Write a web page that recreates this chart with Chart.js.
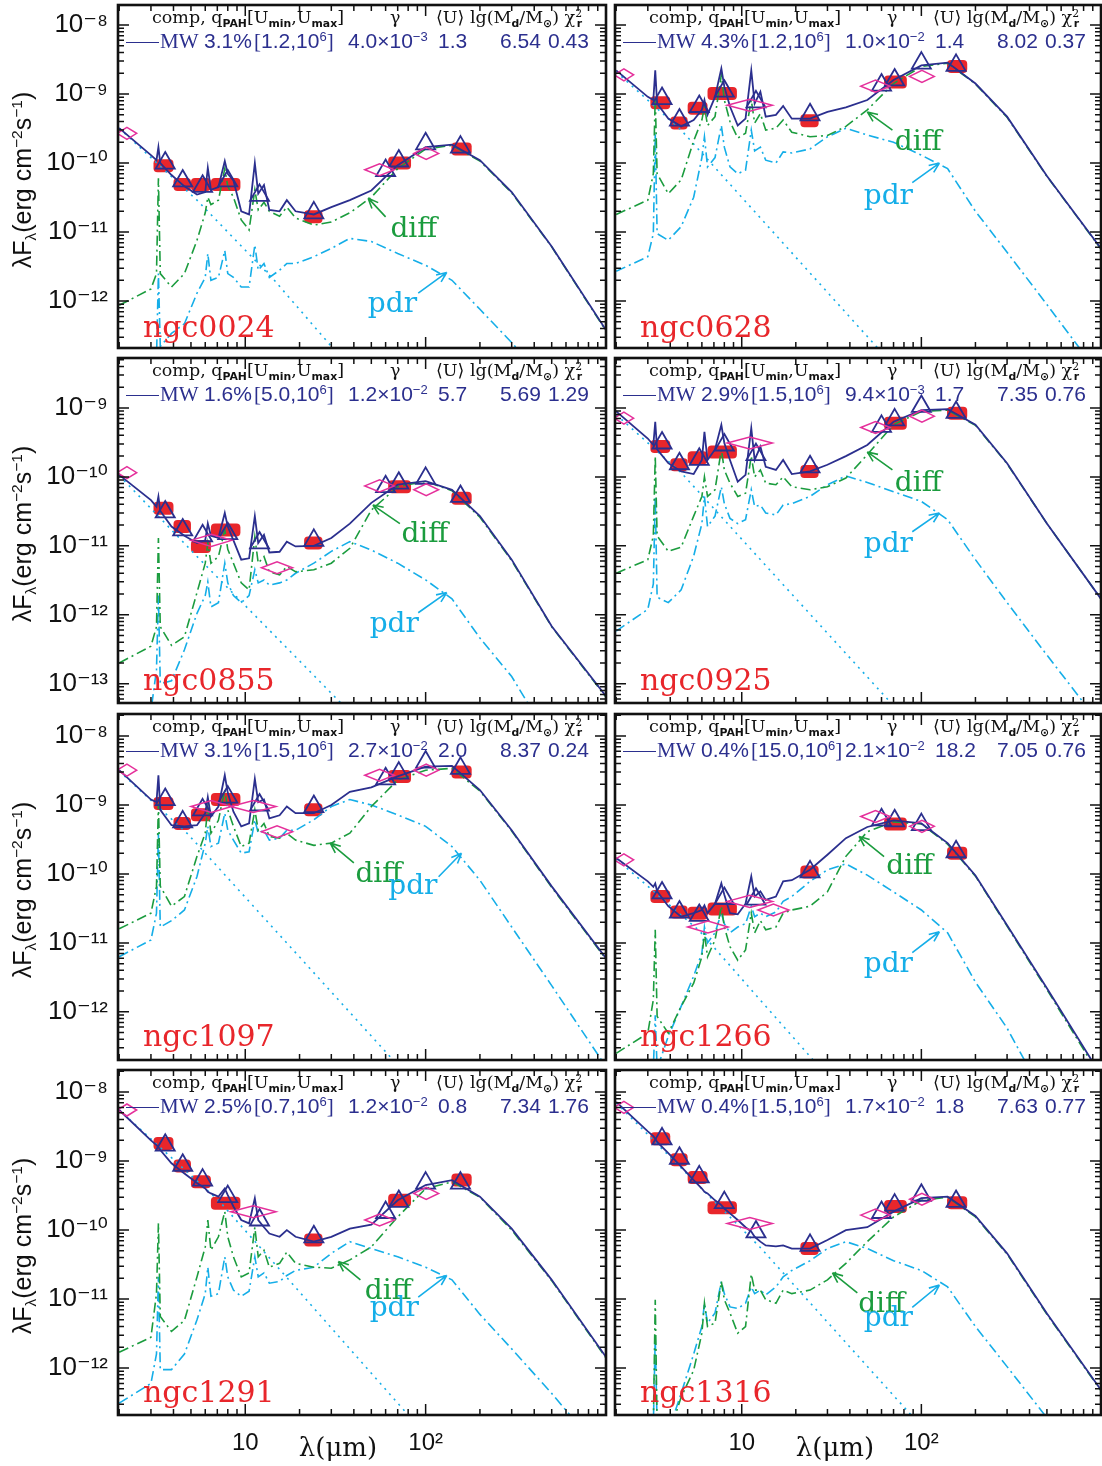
<!DOCTYPE html>
<html lang="en">
<head>
<meta charset="UTF-8">
<title>SED fits</title>
<script src="https://cdn.jsdelivr.net/npm/chart.js@4"></script>
<style>
  body { margin: 0; background: #fff; }
  #page { position: relative; width: 1102px; height: 1466px; overflow: hidden; background: #fff; }
  canvas { position: absolute; }
  .txt { position: absolute; white-space: nowrap; line-height: 1; }
  .txt sub { font-size: 0.62em; vertical-align: -0.35em; line-height: 0; }
  .txt sup { font-size: 0.62em; vertical-align: 0.55em; line-height: 0; }
  .hd1 { font-family: 'DejaVu Serif', serif; font-size: 17.5px; color: #111; }
  .hd1 sub { font-family: 'DejaVu Sans', sans-serif; font-weight: bold; font-size: 0.62em; }
  .hd2 { font-family: 'Liberation Sans', Arial, sans-serif; font-size: 21px; color: #2b2f8e; }
  .mw { font-family: 'Liberation Serif', serif; font-size: 21px; color: #2b2f8e; }
  .seg { position: absolute; height: 0; border-top: 1.5px solid #2b2f8e; }
  .name { font-family: 'DejaVu Serif', serif; font-size: 30px; color: #e8262b; }
  .lab { font-family: 'DejaVu Serif', serif; font-size: 28px; transform: translate(-50%, -50%); }
  .ytitle { font-family: 'Liberation Sans', Arial, sans-serif; font-size: 25px; color: #111;
            transform: translate(-50%, -50%) rotate(-90deg); }
  .xtitle { font-family: 'DejaVu Serif', serif; font-size: 26px; color: #111; transform: translate(-50%, -50%); }
</style>
</head>
<body>
<div id="page"></div>
<script>
// model wavelength grid (micron)
const WAVE = [2.0, 3.0, 3.22, 3.3, 3.38, 3.9, 4.6, 5.4, 6.0, 6.2, 6.45, 7.1, 7.7, 8.0, 8.6, 9.5, 10.5, 11.3, 11.8, 12.7,
              13.6, 15.5, 17.0, 19, 24, 30, 38, 50, 70, 100, 140, 200, 300, 500, 1000];

// photometric bands: red boxes (IRAC + MIPS), triangles (model in band), diamonds (2MASS K, ISO, IRAS)
const BOX_LO = [3.1, 4.0, 5.0, 6.45, 21.2, 62, 139];
const BOX_HI = [4.0, 5.0, 6.45, 9.4, 26.8, 83, 180];
const TRI_WL = [3.6, 4.5, 5.8, 8.0, 12, 24, 60, 71, 100, 156];
const DIA_LO = [1.95, 5.0, 8.3, 12.3, 46, 86];
const DIA_HI = [2.5, 8.4, 14.8, 18.3, 67, 118];

const GALAXIES = ['ngc0024', 'ngc0628', 'ngc0855', 'ngc0925', 'ngc1097', 'ngc1266', 'ngc1291', 'ngc1316'];
const Q_PAH = ['3.1%', '4.3%', '1.6%', '2.9%', '3.1%', '0.4%', '2.5%', '0.4%'];
const U_MIN = ['1.2', '1.2', '5.0', '1.5', '1.5', '15.0', '0.7', '1.5'];
const GAMMA_M = ['4.0', '1.0', '1.2', '9.4', '2.7', '2.1', '1.2', '1.7'];
const GAMMA_E = ['−3', '−2', '−2', '−3', '−2', '−2', '−2', '−2'];
const U_MEAN = ['1.3', '1.4', '5.7', '1.7', '2.0', '18.2', '0.8', '1.8'];
const LG_MD = ['6.54', '8.02', '5.69', '7.35', '8.37', '7.05', '7.34', '7.63'];
const CHI2 = ['0.43', '0.37', '1.29', '0.76', '0.24', '0.76', '1.76', '0.77'];

// ngc0024
const N0024_TOTAL = [3.2e-10, 1.3e-10, 1.1e-10, 1.7e-10, 1.0e-10, 6.7e-11, 4.6e-11, 3.5e-11, 3.8e-11, 8.5e-11, 4.1e-11, 4.5e-11, 1.07e-10, 7e-11, 5.6e-11, 2.0e-11, 1.8e-11, 1.0e-10, 3.6e-11, 4.8e-11, 2.1e-11, 2.0e-11, 2.9e-11, 2.0e-11, 1.8e-11, 2.3e-11, 2.9e-11, 4.0e-11, 9.3e-11, 1.7e-10, 1.85e-10, 1.1e-10, 3.8e-11, 6.2e-12, 3.8e-13];
const N0024_DIFF = [8.7e-13, 1.5e-12, 2.5e-12, 6e-11, 2.5e-12, 1.6e-12, 2.5e-12, 7.6e-12, 1.9e-11, 3.2e-11, 2.5e-11, 2.9e-11, 8.3e-11, 4.6e-11, 3.2e-11, 1.5e-11, 1.07e-11, 4.1e-11, 2.1e-11, 2.7e-11, 2.0e-11, 1.7e-11, 2.3e-11, 1.6e-11, 1.26e-11, 1.4e-11, 1.9e-11, 3.2e-11, 8.3e-11, 1.6e-10, 1.8e-10, 1.07e-10, 3.7e-11, 6.1e-12, 3.7e-13];
const N0024_PDR = [5e-14, 1.0e-13, 1.5e-13, 2.5e-12, 2.2e-13, 3.4e-13, 4.7e-13, 1.3e-12, 2.2e-12, 4.9e-12, 2e-12, 2.2e-12, 5.4e-12, 2.5e-12, 2.2e-12, 1.6e-12, 1.6e-12, 6.5e-12, 2.8e-12, 3.5e-12, 2.2e-12, 2.8e-12, 3.5e-12, 3.5e-12, 4.4e-12, 5.8e-12, 8.1e-12, 7.3e-12, 4.9e-12, 3.3e-12, 2.0e-12, 7.6e-13, 2.5e-13, 5.8e-14, 7e-15];
const N0024_STAR_WL = [2, 5.4, 14.5, 31, 45];
const N0024_STAR = [3.2e-10, 2.9e-11, 2.0e-12, 2.0e-13, 7e-14];
const N0024_BOX = [9.1e-11, 4.9e-11, 4.9e-11, 4.9e-11, 1.66e-11, 1.0e-10, 1.6e-10];
const N0024_TRI = [1.0e-10, 5.5e-11, 4.6e-11, 5.5e-11, 3.4e-11, 1.9e-11, 7.8e-11, 1.07e-10, 1.9e-10, 1.7e-10];
const N0024_DIA = [2.7e-10, null, null, null, 8e-11, 1.38e-10];

// ngc0628
const N0628_TOTAL = [2.2e-9, 9.1e-10, 8.2e-10, 2.2e-9, 7.3e-10, 4.4e-10, 3.4e-10, 4.2e-10, 5.9e-10, 8.2e-10, 5e-10, 9.1e-10, 2.35e-9, 1.28e-9, 6.6e-10, 3.5e-10, 4.4e-10, 2.2e-9, 7.3e-10, 1.08e-9, 4.7e-10, 5e-10, 6.7e-10, 4.4e-10, 4.4e-10, 5.5e-10, 6.4e-10, 8.2e-10, 1.6e-9, 2.6e-9, 2.85e-9, 1.42e-9, 4.7e-10, 6.5e-11, 5.8e-12];
const N0628_DIFF = [1.8e-11, 2.9e-11, 7e-11, 9.1e-10, 7e-11, 3.6e-11, 5.7e-11, 2.1e-10, 4.2e-10, 6.6e-10, 3.5e-10, 4.7e-10, 1.9e-9, 8.2e-10, 4e-10, 2.3e-10, 2.7e-10, 8.2e-10, 3.8e-10, 5.2e-10, 3e-10, 3.2e-10, 4.2e-10, 2.8e-10, 2.4e-10, 2.5e-10, 3.4e-10, 5.9e-10, 1.42e-9, 2.5e-9, 2.8e-9, 1.4e-9, 4.6e-10, 6.4e-11, 5.7e-12];
const N0628_PDR = [2.7e-12, 4.4e-12, 9.5e-12, 2.7e-10, 9.5e-12, 7.6e-12, 1.2e-11, 3.2e-11, 1.2e-10, 2.4e-10, 8.8e-11, 1.2e-10, 3.5e-10, 1.7e-10, 8.8e-11, 7e-11, 7.9e-11, 3e-10, 1.5e-10, 1.7e-10, 1.1e-10, 1e-10, 1.45e-10, 1.4e-10, 1.6e-10, 2.4e-10, 3.2e-10, 2.55e-10, 2.0e-10, 1.3e-10, 8.3e-11, 2.0e-11, 5.1e-12, 8.9e-13, 8e-14];
const N0628_STAR_WL = [2, 4.6, 58, 80];
const N0628_STAR = [2.1e-9, 3.0e-10, 2.0e-13, 8e-14];
const N0628_BOX = [7.5e-10, 3.8e-10, 6.2e-10, 1.02e-9, 4.1e-10, 1.5e-9, 2.5e-9];
const N0628_TRI = [8.6e-10, 4.2e-10, 6.6e-10, 1.1e-9, 7.7e-10, 5e-10, 1.35e-9, 1.6e-9, 2.8e-9, 2.6e-9];
const N0628_DIA = [1.9e-9, null, 6.9e-10, null, 1.3e-9, 1.8e-9];

// ngc0855
const N0855_TOTAL = [1.07e-10, 4.6e-11, 3.7e-11, 5.2e-11, 3.2e-11, 1.9e-11, 1.4e-11, 1.1e-11, 1.2e-11, 2.1e-11, 1.4e-11, 1.3e-11, 3.0e-11, 1.9e-11, 1.2e-11, 6.3e-12, 6.6e-12, 2.7e-11, 1.1e-11, 1.45e-11, 8e-12, 8.2e-12, 1.15e-11, 9.8e-12, 1.0e-11, 1.3e-11, 2.1e-11, 4.2e-11, 7.7e-11, 8.7e-11, 6.5e-11, 2.7e-11, 6.3e-12, 6.8e-13, 6.6e-14];
const N0855_DIFF = [2e-13, 3.5e-13, 6.7e-13, 1.3e-11, 6.7e-13, 3.6e-13, 4.8e-13, 2.1e-12, 5.6e-12, 1.1e-11, 5.6e-12, 7e-12, 1.7e-11, 8.9e-12, 5.6e-12, 2.9e-12, 2.3e-12, 1.35e-11, 5.6e-12, 7e-12, 4.2e-12, 3.8e-12, 5e-12, 4.2e-12, 4.5e-12, 5.6e-12, 9.2e-12, 3.3e-11, 7.2e-11, 8.6e-11, 6.3e-11, 2.6e-11, 6.1e-12, 6.7e-13, 6.4e-14];
const N0855_PDR = [3e-14, 4e-14, 1.6e-13, 1.9e-12, 1e-13, 1.1e-13, 3.1e-13, 1.05e-12, 1.9e-12, 3e-12, 1.3e-12, 1.5e-12, 5.6e-12, 2.9e-12, 1.9e-12, 1.5e-12, 1.9e-12, 4.5e-12, 2.9e-12, 3.2e-12, 2.7e-12, 2.9e-12, 3.2e-12, 4e-12, 5.6e-12, 8.3e-12, 1.15e-11, 8.7e-12, 5.6e-12, 3.2e-12, 1.7e-12, 4.6e-13, 1.27e-13, 1.4e-14, 1e-15];
const N0855_STAR_WL = [2, 5.4, 34, 45];
const N0855_STAR = [1.05e-10, 7e-12, 5.2e-14, 2e-14];
const N0855_BOX = [3.5e-11, 1.9e-11, 9.8e-12, 1.7e-11, 1.1e-11, 7.2e-11, 4.9e-11];
const N0855_TRI = [3.1e-11, 1.7e-11, 1.4e-11, 1.5e-11, 1.1e-11, 1.2e-11, 7.2e-11, 8.1e-11, 9.5e-11, 5.2e-11];
const N0855_DIA = [1.15e-10, 1.2e-11, null, 4.8e-12, 7.4e-11, 6.5e-11];

// ngc0925
const N0925_TOTAL = [8.9e-10, 3.6e-10, 2.9e-10, 6.3e-10, 2.5e-10, 1.58e-10, 1.2e-10, 1.1e-10, 1.76e-10, 4.5e-10, 1.76e-10, 2.5e-10, 5.7e-10, 3.1e-10, 1.76e-10, 8.5e-11, 1.07e-10, 5.1e-10, 1.76e-10, 2.75e-10, 1.4e-10, 1.26e-10, 1.76e-10, 1.1e-10, 1.2e-10, 1.5e-10, 2e-10, 2.9e-10, 6.3e-10, 9.3e-10, 9.6e-10, 5.7e-10, 1.58e-10, 2.1e-11, 1.7e-12];
const N0925_DIFF = [4e-12, 6.3e-12, 1.4e-11, 2e-10, 1.4e-11, 8.3e-12, 9.6e-12, 2.7e-11, 5.2e-11, 1e-10, 5.2e-11, 6.5e-11, 2.5e-10, 1.26e-10, 8.1e-11, 5.2e-11, 5.8e-11, 2e-10, 1e-10, 1.26e-10, 8.1e-11, 7.7e-11, 1e-10, 7.2e-11, 6.5e-11, 7.2e-11, 9.6e-11, 2.1e-10, 5.7e-10, 8.9e-10, 9.3e-10, 5.6e-10, 1.55e-10, 2.1e-11, 1.7e-12];
const N0925_PDR = [5.8e-13, 1.2e-12, 2.8e-12, 5.2e-11, 1.8e-12, 1.5e-12, 2.3e-12, 7.1e-12, 2.1e-11, 5.2e-11, 1.9e-11, 2.7e-11, 7.2e-11, 4.1e-11, 2.5e-11, 2.1e-11, 2.4e-11, 6.5e-11, 3.7e-11, 3.9e-11, 3e-11, 2.8e-11, 3.9e-11, 4.1e-11, 5.2e-11, 7.7e-11, 1.03e-10, 8.3e-11, 6.1e-11, 4.4e-11, 2.4e-11, 6.3e-12, 1.5e-12, 2.6e-13, 2.5e-14];
const N0925_STAR_WL = [2, 4.6, 68, 90];
const N0925_STAR = [8.0e-10, 1.15e-10, 5.2e-14, 2e-14];
const N0925_BOX = [2.75e-10, 1.5e-10, 1.9e-10, 2.3e-10, 1.2e-10, 6e-10, 8.4e-10];
const N0925_TRI = [3.1e-10, 1.55e-10, 1.8e-10, 2.9e-10, 2.1e-10, 1.4e-10, 5.4e-10, 6.7e-10, 1.05e-9, 8.6e-10];
const N0925_DIA = [7.1e-10, null, 3.1e-10, null, 5.2e-10, 7.6e-10];

// ngc1097
const N1097_TOTAL = [3.2e-9, 1.2e-9, 1.1e-9, 2.7e-9, 8.5e-10, 5.1e-10, 4.9e-10, 5.1e-10, 7.6e-10, 1.3e-9, 6.8e-10, 9.5e-10, 2.7e-9, 1.5e-9, 8.0e-10, 4.9e-10, 5.4e-10, 2.4e-9, 1.1e-9, 1.2e-9, 6.4e-10, 7.1e-10, 9.5e-10, 7.6e-10, 7.6e-10, 1.0e-9, 1.55e-9, 1.8e-9, 2.6e-9, 3.6e-9, 3.7e-9, 1.65e-9, 4.3e-10, 6.6e-11, 6e-12];
const N1097_DIFF = [1.6e-11, 2.7e-11, 6.6e-11, 1.05e-9, 6.6e-11, 3.4e-11, 4.7e-11, 1.8e-10, 3.9e-10, 9.5e-10, 3.9e-10, 6e-10, 1.65e-9, 8.5e-10, 4.9e-10, 2.5e-10, 2.8e-10, 8.5e-10, 4.3e-10, 5.4e-10, 3.5e-10, 3.3e-10, 3.9e-10, 3.1e-10, 2.6e-10, 2.8e-10, 3.9e-10, 9.5e-10, 2.3e-9, 3.2e-9, 3.4e-9, 1.6e-9, 4.2e-10, 6.4e-11, 5.8e-12];
const N1097_PDR = [6.3e-12, 1.1e-11, 2.7e-11, 3.9e-10, 1.7e-11, 2.1e-11, 3e-11, 9.2e-11, 2.8e-10, 4.9e-10, 2.5e-10, 2.8e-10, 7.6e-10, 4.3e-10, 3.1e-10, 2e-10, 2.1e-10, 6.1e-10, 3.9e-10, 4.3e-10, 3.1e-10, 3.3e-10, 4.3e-10, 4.3e-10, 6.1e-10, 9.5e-10, 1.2e-9, 1.0e-9, 7.2e-10, 4.9e-10, 2.5e-10, 8.1e-11, 1.7e-11, 2.4e-12, 1.6e-13];
const N1097_STAR_WL = [2, 4.8, 66, 90];
const N1097_STAR = [3.1e-9, 3.8e-10, 2.0e-13, 6e-14];
const N1097_BOX = [1.05e-9, 5.4e-10, 7.2e-10, 1.2e-9, 8.5e-10, 2.6e-9, 3.0e-9];
const N1097_TRI = [1.2e-9, 5.7e-10, 8.5e-10, 1.3e-9, 1.0e-9, 9.5e-10, 2.4e-9, 2.9e-9, 4.2e-9, 3.4e-9];
const N1097_DIA = [3.2e-9, 9.5e-10, 9.5e-10, 4.1e-10, 2.7e-9, 3.2e-9];

// ngc1266
const N1266_TOTAL = [1.7e-10, 7.8e-11, 6.5e-11, 7.3e-11, 5.6e-11, 3.4e-11, 2.4e-11, 2.7e-11, 3e-11, 3.5e-11, 2.7e-11, 3.7e-11, 7.3e-11, 5e-11, 2.7e-11, 2.6e-11, 3.7e-11, 9.2e-11, 4.7e-11, 5.6e-11, 4.2e-11, 4.7e-11, 7.8e-11, 8.1e-11, 1.15e-10, 1.9e-10, 3.3e-10, 4.8e-10, 6.0e-10, 5.4e-10, 2.8e-10, 9.5e-11, 1.8e-11, 2.2e-12, 1.2e-13];
const N1266_DIFF = [2.5e-13, 4.9e-13, 1.5e-12, 1.55e-11, 8.6e-13, 4.9e-13, 1.2e-12, 2.6e-12, 6.3e-12, 1.4e-11, 6.3e-12, 1.1e-11, 3.4e-11, 1.7e-11, 8.8e-12, 5.6e-12, 7.9e-12, 2.7e-11, 1.4e-11, 2.1e-11, 1.55e-11, 1.7e-11, 2.7e-11, 3e-11, 3.4e-11, 5.5e-11, 1.8e-10, 4.1e-10, 5.7e-10, 5.3e-10, 2.7e-10, 9.3e-11, 1.75e-11, 2.1e-12, 1.1e-13];
const N1266_PDR = [2e-14, 1e-13, 1.5e-13, 8.9e-13, 1.5e-13, 4.4e-13, 1.2e-12, 3.3e-12, 7.1e-12, 1.7e-11, 1e-11, 1.4e-11, 2.7e-11, 1.9e-11, 1.4e-11, 1.7e-11, 1.9e-11, 3.4e-11, 2.4e-11, 2.7e-11, 2.4e-11, 2.8e-11, 4e-11, 4.7e-11, 7.8e-11, 1.15e-10, 1.4e-10, 9.6e-11, 5.5e-11, 3e-11, 1.4e-11, 2.7e-12, 5.8e-13, 5e-14, 1e-15];
const N1266_STAR_WL = [2, 5.8, 25, 35];
const N1266_STAR = [1.65e-10, 1.5e-11, 2.0e-13, 8e-14];
const N1266_BOX = [4.7e-11, 2.8e-11, 2.7e-11, 3.1e-11, 1.07e-10, 5.3e-10, 2e-10];
const N1266_TRI = [5.3e-11, 2.8e-11, 2.5e-11, 4.4e-11, 4.3e-11, 1.07e-10, 6.1e-10, 5.9e-10, 5.2e-10, 2.1e-10];
const N1266_DIA = [1.6e-10, 1.7e-11, 4e-11, 3e-11, 6.8e-10, 4.9e-10];

// ngc1291
const N1291_TOTAL = [5.5e-9, 2.0e-9, 1.7e-9, 1.6e-9, 1.45e-9, 9.3e-10, 6.6e-10, 4.8e-10, 4e-10, 3.6e-10, 3.4e-10, 3.05e-10, 4.0e-10, 3.2e-10, 2.2e-10, 1.4e-10, 1.25e-10, 2.9e-10, 1.4e-10, 1.1e-10, 8.9e-11, 8e-11, 1.0e-10, 8e-11, 6.8e-11, 8e-11, 1.05e-10, 1.2e-10, 2.7e-10, 4.5e-10, 5.3e-10, 3.05e-10, 1.05e-10, 1.9e-11, 1.45e-12];
const N1291_DIFF = [1.7e-12, 2.8e-12, 1.2e-11, 1.26e-10, 5.6e-12, 3.4e-12, 4.9e-12, 2.1e-11, 5.7e-11, 1.4e-10, 5.1e-11, 8e-11, 1.85e-10, 8e-11, 4.1e-11, 2.1e-11, 2.4e-11, 1.1e-10, 4.1e-11, 5.1e-11, 2.9e-11, 3.3e-11, 4.8e-11, 3.3e-11, 2.9e-11, 2.8e-11, 3.7e-11, 5.7e-11, 1.55e-10, 4e-10, 5e-10, 3e-10, 1.0e-10, 1.85e-11, 1.4e-12];
const N1291_PDR = [3.1e-13, 6e-13, 1.6e-12, 2.1e-11, 9.5e-13, 9.5e-13, 1.6e-12, 5e-12, 1.2e-11, 2.9e-11, 1.1e-11, 1.2e-11, 4.1e-11, 2.1e-11, 1.35e-11, 1.1e-11, 1.3e-11, 4.1e-11, 2.1e-11, 2.4e-11, 1.7e-11, 1.8e-11, 2.2e-11, 2.6e-11, 2.9e-11, 4.6e-11, 6.8e-11, 5.4e-11, 4.1e-11, 2.9e-11, 1.9e-11, 6e-12, 1.9e-12, 4.3e-13, 5e-14];
const N1291_STAR_WL = [2, 7.2, 80, 100];
const N1291_STAR = [5.5e-9, 2.6e-10, 2.1e-13, 1e-13];
const N1291_BOX = [1.8e-9, 8.5e-10, 5e-10, 2.45e-10, 7.2e-11, 2.7e-10, 5.3e-10];
const N1291_TRI = [1.7e-9, 8.7e-10, 5.3e-10, 3.05e-10, 1.4e-10, 8.0e-11, 1.8e-10, 2.6e-10, 4.8e-10, 4.8e-10];
const N1291_DIA = [5.5e-9, null, 1.85e-10, null, 1.4e-10, 3.4e-10];

// ngc1316
const N1316_TOTAL = [7.2e-9, 2.7e-9, 2.3e-9, 2.1e-9, 1.9e-9, 1.3e-9, 8.3e-10, 5.3e-10, 4e-10, 3.6e-10, 3.4e-10, 2.7e-10, 2.3e-10, 2.05e-10, 1.75e-10, 1.4e-10, 1.1e-10, 9.5e-11, 8e-11, 6.8e-11, 6e-11, 5.8e-11, 6e-11, 5.4e-11, 5.4e-11, 7.2e-11, 1.0e-10, 1.1e-10, 1.85e-10, 2.9e-10, 3.05e-10, 1.6e-10, 4.6e-11, 6.2e-12, 4.8e-13];
const N1316_DIFF = [1e-13, 1.5e-13, 1.5e-13, 9.8e-12, 1.5e-13, 1e-13, 3.8e-13, 9.3e-13, 3.2e-12, 8.7e-12, 4e-12, 4.5e-12, 1.8e-11, 9.8e-12, 6.3e-12, 3.2e-12, 4e-12, 2.3e-11, 1.35e-11, 1.35e-11, 9.8e-12, 8.7e-12, 1.35e-11, 1.2e-11, 1.35e-11, 1.9e-11, 3.3e-11, 6.8e-11, 1.55e-10, 2.7e-10, 3e-10, 1.55e-10, 4.5e-11, 6e-12, 4.7e-13];
const N1316_PDR = [1e-14, 1e-13, 1.5e-13, 2.8e-12, 1.5e-13, 1.2e-13, 4.3e-13, 1.6e-12, 4e-12, 8.7e-12, 4.5e-12, 6.3e-12, 1.8e-11, 1.2e-11, 7.7e-12, 7.3e-12, 8.7e-12, 1.5e-11, 1.2e-11, 1.35e-11, 1.15e-11, 1.5e-11, 2.1e-11, 2.6e-11, 3.6e-11, 5.4e-11, 6.8e-11, 5.4e-11, 3.6e-11, 2.6e-11, 1.5e-11, 4e-12, 1.05e-12, 1.9e-13, 2.7e-14];
const N1316_STAR_WL = [2, 12.6, 87.5, 110];
const N1316_STAR = [7.0e-9, 5.7e-11, 2.1e-13, 9e-14];
const N1316_BOX = [2.1e-9, 1.05e-9, 5.8e-10, 2.1e-10, 5.4e-11, 2.2e-10, 2.5e-10];
const N1316_TRI = [2.1e-9, 1.1e-9, 5.9e-10, 2.5e-10, 9.4e-11, 6e-11, 1.8e-10, 2.3e-10, 3.2e-10, 2.6e-10];
const N1316_DIA = [6e-9, null, 1.25e-10, null, 1.65e-10, 2.8e-10];

// "diff" / "pdr" annotations, in data coordinates [lambda, flux]
const DIFF_AT = [[86, 1.15e-11], [96, 2.1e-10], [99, 1.55e-11], [96, 8.5e-11], [55, 1.03e-10], [86, 1.35e-10], [62, 1.35e-11], [60, 8.7e-12]];
const DIFF_ARROW = [[60, 1.66e-11, 48, 3.1e-11], [69, 3.0e-10, 50, 5.5e-10], [72, 2.1e-11, 51, 3.9e-11], [69, 1.26e-10, 50, 2.3e-10],
                    [40, 1.45e-10, 29.6, 2.8e-10], [62, 1.78e-10, 45, 3.5e-10], [43.5, 1.9e-11, 32.8, 3.5e-11], [44, 1.23e-11, 32, 2.4e-11]];
const PDR_AT = [[65.5, 9.3e-13], [65.5, 3.5e-11], [67, 7.6e-13], [65.5, 1.1e-11], [85, 6.9e-11], [65.5, 5.1e-12], [67, 7.6e-12], [65.5, 5.5e-12]];
const PDR_ARROW = [[91, 1.3e-12, 131, 2.6e-12], [89, 5.2e-11, 126, 1.0e-10], [91, 1.07e-12, 131, 2.1e-12], [89, 1.6e-11, 126, 3.0e-11],
                   [118, 9.1e-11, 158, 2.0e-10], [89, 7.2e-12, 126, 1.45e-11], [91, 1.07e-11, 131, 2.2e-11], [89, 7.6e-12, 126, 1.6e-11]];

// axis ranges
const X_MIN = 1.97, X_MAX = 1000;
const Y_MIN = [2.09e-13, 5.25e-14, 2.0e-13, 2.09e-13];
const Y_MAX = [1.95e-8, 5.3e-9, 2.09e-8, 2.09e-8];

const NAVY = '#2b2f8e', GREEN = '#1b9c3e', CYAN = '#15aee8', RED = '#e8262b', MAGENTA = '#e5309b';
const FRAME_L = [118, 615], FRAME_T = [5, 358, 714, 1070], FRAME_B = [348, 703, 1060, 1415];

const PANELS = [
  { total: N0024_TOTAL, diff: N0024_DIFF, pdr: N0024_PDR, starWl: N0024_STAR_WL, star: N0024_STAR, box: N0024_BOX, tri: N0024_TRI, dia: N0024_DIA },
  { total: N0628_TOTAL, diff: N0628_DIFF, pdr: N0628_PDR, starWl: N0628_STAR_WL, star: N0628_STAR, box: N0628_BOX, tri: N0628_TRI, dia: N0628_DIA },
  { total: N0855_TOTAL, diff: N0855_DIFF, pdr: N0855_PDR, starWl: N0855_STAR_WL, star: N0855_STAR, box: N0855_BOX, tri: N0855_TRI, dia: N0855_DIA },
  { total: N0925_TOTAL, diff: N0925_DIFF, pdr: N0925_PDR, starWl: N0925_STAR_WL, star: N0925_STAR, box: N0925_BOX, tri: N0925_TRI, dia: N0925_DIA },
  { total: N1097_TOTAL, diff: N1097_DIFF, pdr: N1097_PDR, starWl: N1097_STAR_WL, star: N1097_STAR, box: N1097_BOX, tri: N1097_TRI, dia: N1097_DIA },
  { total: N1266_TOTAL, diff: N1266_DIFF, pdr: N1266_PDR, starWl: N1266_STAR_WL, star: N1266_STAR, box: N1266_BOX, tri: N1266_TRI, dia: N1266_DIA },
  { total: N1291_TOTAL, diff: N1291_DIFF, pdr: N1291_PDR, starWl: N1291_STAR_WL, star: N1291_STAR, box: N1291_BOX, tri: N1291_TRI, dia: N1291_DIA },
  { total: N1316_TOTAL, diff: N1316_DIFF, pdr: N1316_PDR, starWl: N1316_STAR_WL, star: N1316_STAR, box: N1316_BOX, tri: N1316_TRI, dia: N1316_DIA }
];

const page = document.getElementById('page');
const SUP = { '-': '\u207B', '0': '\u2070', '1': '\u00B9', '2': '\u00B2', '3': '\u00B3', '4': '\u2074',
              '5': '\u2075', '6': '\u2076', '7': '\u2077', '8': '\u2078', '9': '\u2079' };
const sup = n => String(n).split('').map(c => SUP[c]).join('');
const side = new WeakMap();

function decades(lo, hi) {
  const out = [];
  for (let e = Math.ceil(Math.log10(lo) - 1e-9); e <= Math.floor(Math.log10(hi) + 1e-9); e++) out.push(Math.pow(10, e));
  return out;
}

function addText(cls, html, left, top) {
  const d = document.createElement('div');
  d.className = 'txt ' + cls;
  d.innerHTML = html;
  d.style.left = left + 'px';
  d.style.top = top + 'px';
  page.appendChild(d);
  return d;
}

function roundRect(ctx, x, y, w, h, r) {
  ctx.beginPath();
  ctx.moveTo(x + r, y);
  ctx.lineTo(x + w - r, y); ctx.quadraticCurveTo(x + w, y, x + w, y + r);
  ctx.lineTo(x + w, y + h - r); ctx.quadraticCurveTo(x + w, y + h, x + w - r, y + h);
  ctx.lineTo(x + r, y + h); ctx.quadraticCurveTo(x, y + h, x, y + h - r);
  ctx.lineTo(x, y + r); ctx.quadraticCurveTo(x, y, x + r, y);
  ctx.closePath();
}

function arrow(ctx, x0, y0, x1, y1, color) {
  const a = Math.atan2(y1 - y0, x1 - x0);
  ctx.strokeStyle = color; ctx.lineWidth = 1.6;
  ctx.beginPath(); ctx.moveTo(x0, y0); ctx.lineTo(x1, y1);
  ctx.moveTo(x1, y1); ctx.lineTo(x1 - 11 * Math.cos(a - 0.4), y1 - 11 * Math.sin(a - 0.4));
  ctx.moveTo(x1, y1); ctx.lineTo(x1 - 11 * Math.cos(a + 0.4), y1 - 11 * Math.sin(a + 0.4));
  ctx.stroke();
}

const sedPlugin = {
  id: 'sed',
  beforeDatasetsDraw(chart) {
    const p = side.get(chart.canvas);
    const { ctx, chartArea: a, scales: { x, y } } = chart;
    ctx.save();
    ctx.beginPath(); ctx.rect(a.left, a.top, a.right - a.left, a.bottom - a.top); ctx.clip();
    ctx.fillStyle = RED;
    p.box.forEach((v, k) => {
      if (v == null) return;
      const x0 = x.getPixelForValue(BOX_LO[k]), x1 = x.getPixelForValue(BOX_HI[k]), yc = y.getPixelForValue(v);
      roundRect(ctx, x0, yc - 6.5, x1 - x0, 13, 4);
      ctx.fill();
    });
    ctx.restore();
  },
  afterDatasetsDraw(chart) {
    const p = side.get(chart.canvas);
    const { ctx, chartArea: a, scales: { x, y } } = chart;
    ctx.save();
    ctx.beginPath(); ctx.rect(a.left, a.top, a.right - a.left, a.bottom - a.top); ctx.clip();
    ctx.strokeStyle = MAGENTA; ctx.lineWidth = 1.5;
    p.dia.forEach((v, k) => {
      if (v == null) return;
      const x0 = x.getPixelForValue(DIA_LO[k]), x1 = x.getPixelForValue(DIA_HI[k]), yc = y.getPixelForValue(v);
      const xm = (x0 + x1) / 2;
      ctx.beginPath();
      ctx.moveTo(x0, yc); ctx.lineTo(xm, yc - 6); ctx.lineTo(x1, yc); ctx.lineTo(xm, yc + 6); ctx.closePath();
      ctx.stroke();
    });
    const d = DIFF_ARROW[p.idx], q = PDR_ARROW[p.idx];
    arrow(ctx, x.getPixelForValue(d[0]), y.getPixelForValue(d[1]), x.getPixelForValue(d[2]), y.getPixelForValue(d[3]), GREEN);
    arrow(ctx, x.getPixelForValue(q[0]), y.getPixelForValue(q[1]), x.getPixelForValue(q[2]), y.getPixelForValue(q[3]), CYAN);
    ctx.restore();
  },
  afterDraw(chart) {
    const { ctx, chartArea: a, scales: { x, y } } = chart;
    ctx.save();
    ctx.strokeStyle = '#111';
    ctx.lineWidth = 1.5;
    ctx.beginPath();
    for (let e = 0; e <= 3; e++) {
      for (let m = 1; m <= 9; m++) {
        const v = m * Math.pow(10, e);
        if (v < x.min || v > x.max) continue;
        const px = x.getPixelForValue(v), L = m === 1 ? 11 : 6;
        ctx.moveTo(px, a.top); ctx.lineTo(px, a.top + L);
        ctx.moveTo(px, a.bottom); ctx.lineTo(px, a.bottom - L);
      }
    }
    for (let e = Math.floor(Math.log10(y.min)); e <= Math.ceil(Math.log10(y.max)); e++) {
      for (let m = 1; m <= 9; m++) {
        const v = m * Math.pow(10, e);
        if (v < y.min || v > y.max) continue;
        const py = y.getPixelForValue(v), L = m === 1 ? 11 : 6;
        ctx.moveTo(a.left, py); ctx.lineTo(a.left + L, py);
        ctx.moveTo(a.right, py); ctx.lineTo(a.right - L, py);
      }
    }
    ctx.stroke();
    ctx.lineWidth = 2.6;
    ctx.strokeRect(a.left, a.top, a.right - a.left, a.bottom - a.top);
    ctx.restore();
  }
};
Chart.register(sedPlugin);

const TICK_FONT = { family: "'Liberation Sans', 'DejaVu Sans', sans-serif", size: 26 };

PANELS.forEach((p, i) => {
  p.idx = i;
  const col = i % 2, row = Math.floor(i / 2);
  const left = col === 0 ? 0 : 610;
  const width = col === 0 ? 610 : 492;
  const top = FRAME_T[row] - 3;
  const bottomRow = row === 3;
  const height = FRAME_B[row] - top + (bottomRow ? 51 : 3);

  const cv = document.createElement('canvas');
  cv.width = width; cv.height = height;
  cv.style.left = left + 'px'; cv.style.top = top + 'px';
  page.appendChild(cv);
  side.set(cv, p);

  const pts = (xs, ys) => xs.map((v, k) => ({ x: v, y: ys[k] }));
  const chart = new Chart(cv, {
    type: 'scatter',
    data: {
      datasets: [
        { data: pts(TRI_WL, p.tri), pointStyle: 'triangle', pointRadius: 11, borderColor: NAVY, borderWidth: 1.8,
          backgroundColor: 'rgba(0,0,0,0)', showLine: false },
        { data: pts(WAVE, p.total), showLine: true, borderColor: NAVY, borderWidth: 1.8, pointRadius: 0 },
        { data: pts(WAVE, p.diff), showLine: true, borderColor: GREEN, borderWidth: 1.6, borderDash: [10, 4, 2, 4], pointRadius: 0 },
        { data: pts(WAVE, p.pdr), showLine: true, borderColor: CYAN, borderWidth: 1.6, borderDash: [10, 4, 2, 4], pointRadius: 0 },
        { data: pts(p.starWl, p.star), showLine: true, borderColor: CYAN, borderWidth: 1.6, borderDash: [2, 5], pointRadius: 0 }
      ]
    },
    options: {
      responsive: false, animation: false, devicePixelRatio: 1, events: [],
      layout: { autoPadding: false,
                padding: { left: col === 0 ? 0 : 5, right: col === 0 ? 4 : 1, top: 3, bottom: bottomRow ? 0 : 3 } },
      plugins: { legend: { display: false }, tooltip: { enabled: false } },
      scales: {
        x: {
          type: 'logarithmic', min: X_MIN, max: X_MAX, display: bottomRow,
          afterFit: s => { s.height = bottomRow ? 51 : 0; s.paddingLeft = 0; s.paddingRight = 0; },
          afterBuildTicks: s => { s.ticks = [{ value: 10 }, { value: 100 }]; },
          ticks: { callback: v => Math.round(Math.log10(v)) === 1 ? '10' : '10' + sup(2), font: { ...TICK_FONT, size: 24 },
                   color: '#111', padding: 14, autoSkip: false, maxRotation: 0 },
          grid: { display: false, drawTicks: false }, border: { display: false }
        },
        y: {
          type: 'logarithmic', min: Y_MIN[row], max: Y_MAX[row], display: col === 0,
          afterFit: s => { s.width = col === 0 ? 118 : 0; s.paddingTop = 0; s.paddingBottom = 0; },
          afterBuildTicks: s => { s.ticks = decades(s.min, s.max).map(v => ({ value: v })); },
          ticks: { callback: v => '10' + sup(Math.round(Math.log10(v))), font: TICK_FONT, color: '#111',
                   padding: 10, autoSkip: false },
          grid: { display: false, drawTicks: false }, border: { display: false }
        }
      }
    }
  });

  // text inside the panel
  const x0 = FRAME_L[col], y0 = FRAME_T[row];
  addText('hd1', 'comp, q<sub>PAH</sub>[U<sub>min</sub>,U<sub>max</sub>]', x0 + 34, y0 + 4);
  addText('hd1', '\u03B3', x0 + 272, y0 + 4);
  addText('hd1', '\u27E8U\u27E9 lg(M<sub>d</sub>/M<sub>\u2299</sub>) \u03C7<sup>2</sup><sub style="margin-left:-0.5em">r</sub>', x0 + 318, y0 + 4);
  const seg = document.createElement('div');
  seg.className = 'seg';
  seg.style.left = (x0 + 8) + 'px'; seg.style.top = (y0 + 37) + 'px'; seg.style.width = '33px';
  page.appendChild(seg);
  addText('mw', 'MW', x0 + 42, y0 + 26);
  addText('hd2', Q_PAH[i], x0 + 86, y0 + 25);
  addText('hd2', '<span style="font-family:\'Liberation Serif\',serif">[</span>' + U_MIN[i] + ',10<sup>6</sup><span style="font-family:\'Liberation Serif\',serif">]</span>', x0 + 136, y0 + 25);
  addText('hd2', GAMMA_M[i] + '\u00D710<sup>' + GAMMA_E[i] + '</sup>', x0 + 230, y0 + 25);
  addText('hd2', U_MEAN[i], x0 + 320, y0 + 25);
  addText('hd2', LG_MD[i], x0 + 382, y0 + 25);
  addText('hd2', CHI2[i], x0 + 430, y0 + 25);
  addText('name', GALAXIES[i], x0 + 25, y0 + 307);

  const xs = chart.scales.x, ys = chart.scales.y;
  const dl = addText('lab', 'diff', left + xs.getPixelForValue(DIFF_AT[i][0]), top + ys.getPixelForValue(DIFF_AT[i][1]));
  dl.style.color = GREEN;
  const pl = addText('lab', 'pdr', left + xs.getPixelForValue(PDR_AT[i][0]), top + ys.getPixelForValue(PDR_AT[i][1]));
  pl.style.color = CYAN;
});

// y-axis titles (one per row) and x-axis titles (bottom row)
FRAME_T.forEach((t, r) => {
  addText('ytitle', '\u03BBF<sub>\u03BB</sub>(erg cm<sup>\u22122</sup>s<sup>\u22121</sup>)', 22, (t + FRAME_B[r]) / 2 + 3);
});
addText('xtitle', '\u03BB(\u03BCm)', 338, 1447);
addText('xtitle', '\u03BB(\u03BCm)', 835, 1447);
</script>
</body>
</html>
